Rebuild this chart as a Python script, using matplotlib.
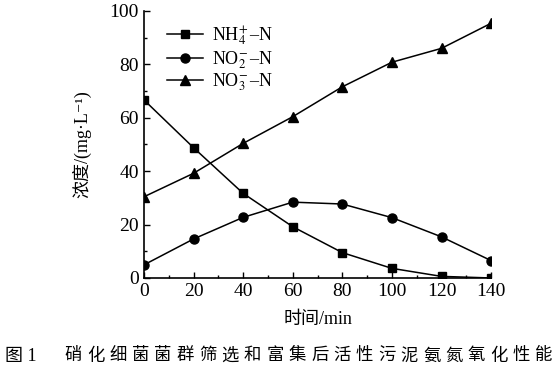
import matplotlib
matplotlib.use('Agg')
import matplotlib.pyplot as plt
from matplotlib.ticker import MultipleLocator

plt.rcParams['font.family'] = ['Liberation Serif', 'Noto Sans CJK SC', 'DejaVu Serif']
plt.rcParams['mathtext.fontset'] = 'stix'

# --- data ---
time_min = [0, 20, 40, 60, 80, 100, 120, 140]
nh4 = [66.7, 48.8, 31.7, 19.2, 9.5, 3.6, 0.6, 0.0]
no2 = [4.9, 14.6, 22.7, 28.4, 27.7, 22.6, 15.4, 6.5]
no3 = [30.4, 39.2, 50.4, 60.4, 71.6, 80.8, 86.0, 95.4]
labels = [r'NH$_4^{\!+}$–N', r'NO$_2^{\!-}$–N', r'NO$_3^{\!-}$–N']
caption_head = '图 1'
caption_body = '硝化细菌菌群筛选和富集后活性污泥氨氮氧化性能'

fig = plt.figure(figsize=(5.6, 3.78), dpi=100)
ax = fig.add_axes([0.257, 0.2646, 0.62, 0.7064])

ax.plot(time_min, nh4, 'k-', marker='s', markersize=5.5, linewidth=1.1, label=labels[0])
ax.plot(time_min, no2, 'k-', marker='o', markersize=6.5, linewidth=1.1, label=labels[1])
ax.plot(time_min, no3, 'k-', marker='^', markersize=7, linewidth=1.1, label=labels[2])

ax.set_xlim(0, 140)
ax.set_ylim(0, 100)
ax.xaxis.set_major_locator(MultipleLocator(20))
ax.xaxis.set_minor_locator(MultipleLocator(10))
ax.yaxis.set_major_locator(MultipleLocator(20))
ax.yaxis.set_minor_locator(MultipleLocator(10))
ax.tick_params(which='both', direction='in', labelsize=14, width=1)
ax.tick_params(which='major', length=4)
ax.tick_params(which='minor', length=2.5)
ax.spines['top'].set_visible(False)
ax.spines['right'].set_visible(False)
for s in ('left', 'bottom'):
    ax.spines[s].set_linewidth(1.2)

ax.set_xlabel('时间/min', fontsize=13, labelpad=8)
ax.set_ylabel('浓度/(mg·L⁻¹)', fontsize=13, labelpad=13)

ax.legend(loc='upper left', bbox_to_anchor=(0.02, 1.01), frameon=False,
          fontsize=13, handlelength=2.0, labelspacing=0.05, handletextpad=0.5)

# caption, letter-spaced like the printed figure
fig.text(0.009, 0.057, caption_head, fontsize=13, ha='left', va='center')
x0, x1 = 0.131, 0.971
step = (x1 - x0) / (len(caption_body) - 1)
for i, ch in enumerate(caption_body):
    fig.text(x0 + i * step, 0.057, ch, fontsize=12.5, ha='center', va='center')

fig.savefig('out.png', dpi=100)
